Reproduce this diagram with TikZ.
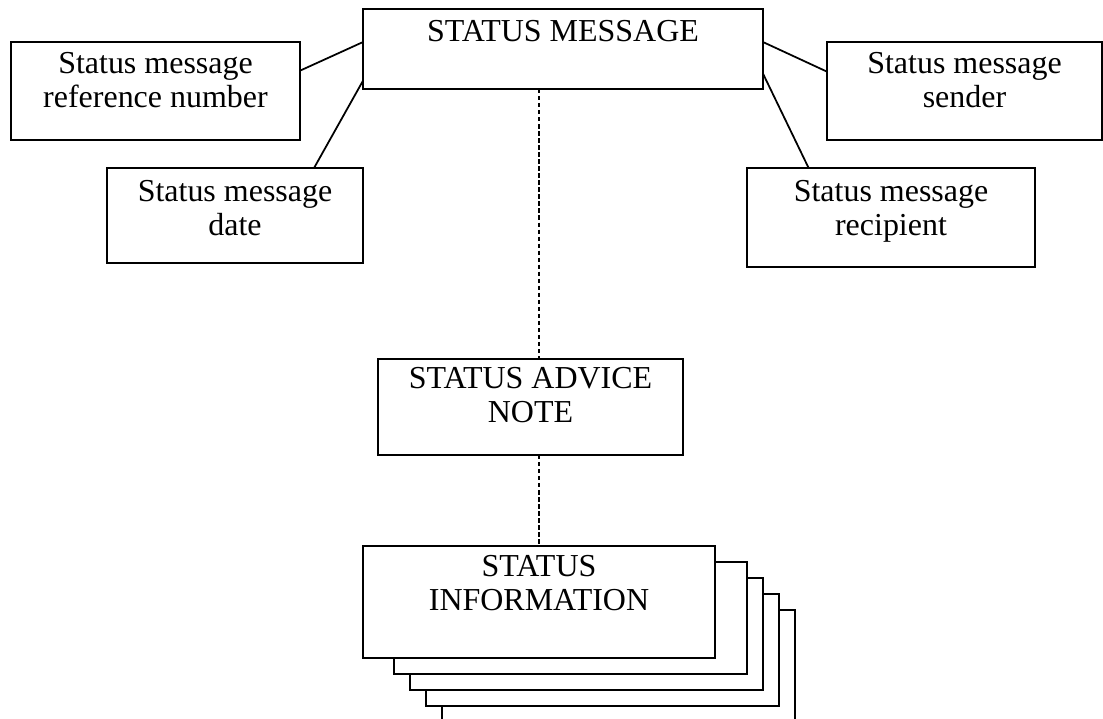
\documentclass[tikz,border=0pt]{standalone}
\usepackage{fontspec}
\setmainfont{Liberation Serif}
\begin{document}
\begin{tikzpicture}[x=0.02cm, y=-0.02cm,
    box/.style={draw, line width=1.1pt, fill=white, inner sep=0pt, outer sep=0pt},
    txt/.style={anchor=north, inner sep=0pt, align=center, font=\fontsize{18.2}{19.6}\selectfont},
    link/.style={line width=1pt},
    dots/.style={line width=1.1pt, dash pattern=on 2.5pt off 1.5pt}]
    \useasboundingbox (0,0) rectangle (1103,719);
    % Message header
    \node[box, minimum width=8cm, minimum height=1.6cm] (msg) at (563,49) {};
    \node[txt] (msgtext) at ([yshift=-0.22cm]msg.north) {STATUS MESSAGE};
    % Attributes
    \node[box, minimum width=5.78cm, minimum height=1.96cm] (ref) at (155.5,91) {};
    \node[txt] (reftext) at ([yshift=-0.2cm]ref.north) {Status message\\reference number};
    \node[box, minimum width=5.12cm, minimum height=1.9cm] (date) at (235,215.5) {};
    \node[txt] (datetext) at ([yshift=-0.24cm]date.north) {Status message\\date};
    \node[box, minimum width=5.5cm, minimum height=1.96cm] (sender) at (964.5,91) {};
    \node[txt] (sendertext) at ([yshift=-0.2cm]sender.north) {Status message\\sender};
    \node[box, minimum width=5.76cm, minimum height=1.98cm] (recipient) at (891,217.5) {};
    \node[txt] (recipienttext) at ([yshift=-0.24cm]recipient.north) {Status message\\recipient};
    \draw[link] (ref.8) -- (msg.178);
    \draw[link] (date.31) -- (msg.189);
    \draw[link] (msg.2) -- (sender.172);
    \draw[link] (msg.353) -- (recipient.149);
    % Advice note
    \node[box, minimum width=6.1cm, minimum height=1.92cm] (advice) at (530.5,407) {};
    \node[txt] (advicetext) at ([yshift=-0.16cm]advice.north) {STATUS ADVICE\\NOTE};
    % Repeated information
    \foreach \k in {3,2,1,0}
        \node[box, minimum width=7.06cm, minimum height=2.24cm] (layer\k) at (570.5+16*\k,618+16*\k) {};
    \node[box, minimum width=7.04cm, minimum height=2.24cm] (info) at (539,602) {};
    \node[txt] (infotext) at ([yshift=-0.18cm]info.north) {STATUS\\INFORMATION};
    \draw[dots] (msg.south -| info.north) -- (advice.north -| info.north);
    \draw[dots] (advice.south -| info.north) -- (info.north);
\end{tikzpicture}
\end{document}
